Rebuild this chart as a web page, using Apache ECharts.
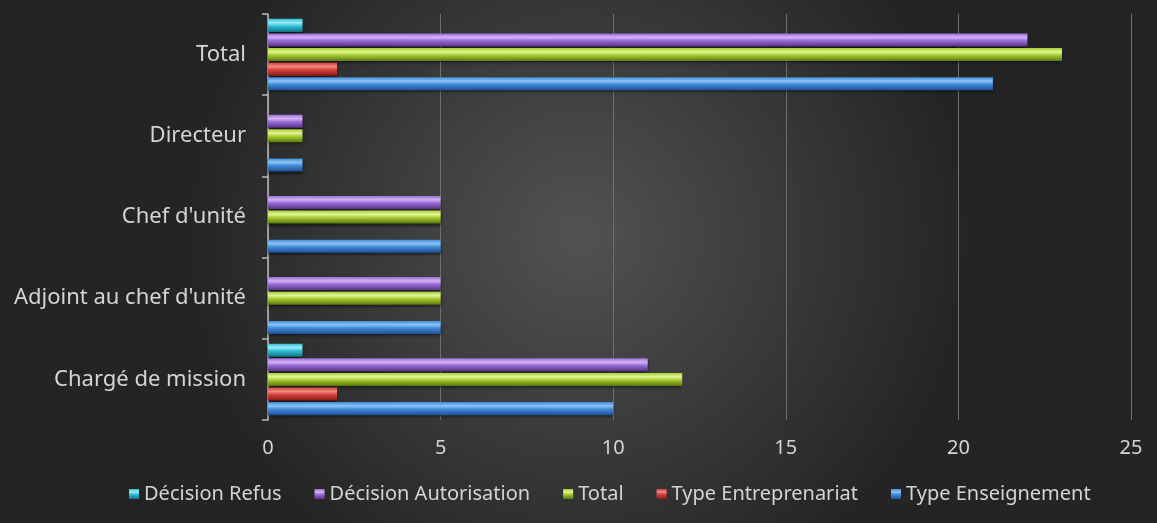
<!DOCTYPE html>
<html>
<head>
<meta charset="utf-8">
<script src="https://cdn.jsdelivr.net/npm/echarts@6/dist/echarts.min.js"></script>
<style>
  html, body { margin: 0; padding: 0; }
  #chart { width: 1157px; height: 523px; }
</style>
</head>
<body>
<div id="chart"></div>
<script>
// categories, bottom to top
const categories = ['Chargé de mission', "Adjoint au chef d'unité", "Chef d'unité", 'Directeur', 'Total'];

const typeEnseignement = [10, 5, 5, 1, 21];
const typeEntreprenariat = [2, 0, 0, 0, 2];
const totalValues = [12, 5, 5, 1, 23];
const decisionAutorisation = [11, 5, 5, 1, 22];
const decisionRefus = [1, 0, 0, 0, 1];

const legendOrder = ['Décision Refus', 'Décision Autorisation', 'Total', 'Type Entreprenariat', 'Type Enseignement'];

// echarts puts the first series at the top of each band, so list them top to bottom
const seriesDefs = [
  { name: 'Décision Refus', data: decisionRefus, colors: ['#9eeaf7', '#2ebfd6', '#157283'] },
  { name: 'Décision Autorisation', data: decisionAutorisation, colors: ['#d2b4f5', '#9a6cd6', '#553485'] },
  { name: 'Total', data: totalValues, colors: ['#e2f59a', '#a6cc2e', '#5b7514'] },
  { name: 'Type Entreprenariat', data: typeEntreprenariat, colors: ['#f08a86', '#d63f3a', '#8a1e1b'] },
  { name: 'Type Enseignement', data: typeEnseignement, colors: ['#8cc4f5', '#3f8ad8', '#21508f'] }
];

const cylinder = (c) => new echarts.graphic.LinearGradient(0, 0, 0, 1, [
  { offset: 0, color: c[1] },
  { offset: 0.3, color: c[0] },
  { offset: 0.55, color: c[1] },
  { offset: 1, color: c[2] }
]);

const chart = echarts.init(document.getElementById('chart'));

const textColor = '#d4d4d4';
const font = 'Noto Sans';

chart.setOption({
  backgroundColor: new echarts.graphic.RadialGradient(0.5, 0.45, 0.75, [
    { offset: 0, color: '#525252' },
    { offset: 1, color: '#242424' }
  ]),
  animation: false,
  grid: { left: 268, right: 26, top: 14, bottom: 103 },
  legend: {
    data: legendOrder,
    bottom: 14,
    left: 124,
    itemWidth: 10,
    itemHeight: 10,
    itemGap: 33,
    icon: 'rect',
    textStyle: { color: textColor, fontSize: 20, fontFamily: font }
  },
  xAxis: {
    type: 'value',
    min: 0,
    max: 25,
    interval: 5,
    axisLine: { show: false },
    axisTick: { show: false },
    axisLabel: { color: textColor, fontSize: 20, fontFamily: font, margin: 18 },
    splitLine: { lineStyle: { color: '#6e6e6e', width: 1 } }
  },
  yAxis: {
    type: 'category',
    data: categories,
    axisLine: { lineStyle: { color: '#b8b8b8', width: 1.5 } },
    axisTick: { show: true, length: 6, lineStyle: { color: '#b8b8b8', width: 1.5 } },
    axisLabel: { color: textColor, fontSize: 22, fontFamily: font, margin: 22 },
    splitLine: { show: false }
  },
  series: seriesDefs.map(s => ({
    name: s.name,
    type: 'bar',
    data: s.data.map(v => v === 0 ? null : v),
    barGap: '12%',
    barCategoryGap: '12%',
    itemStyle: {
      color: cylinder(s.colors),
      shadowColor: 'rgba(0,0,0,0.55)',
      shadowBlur: 3,
      shadowOffsetY: 2
    }
  }))
});
</script>
</body>
</html>
